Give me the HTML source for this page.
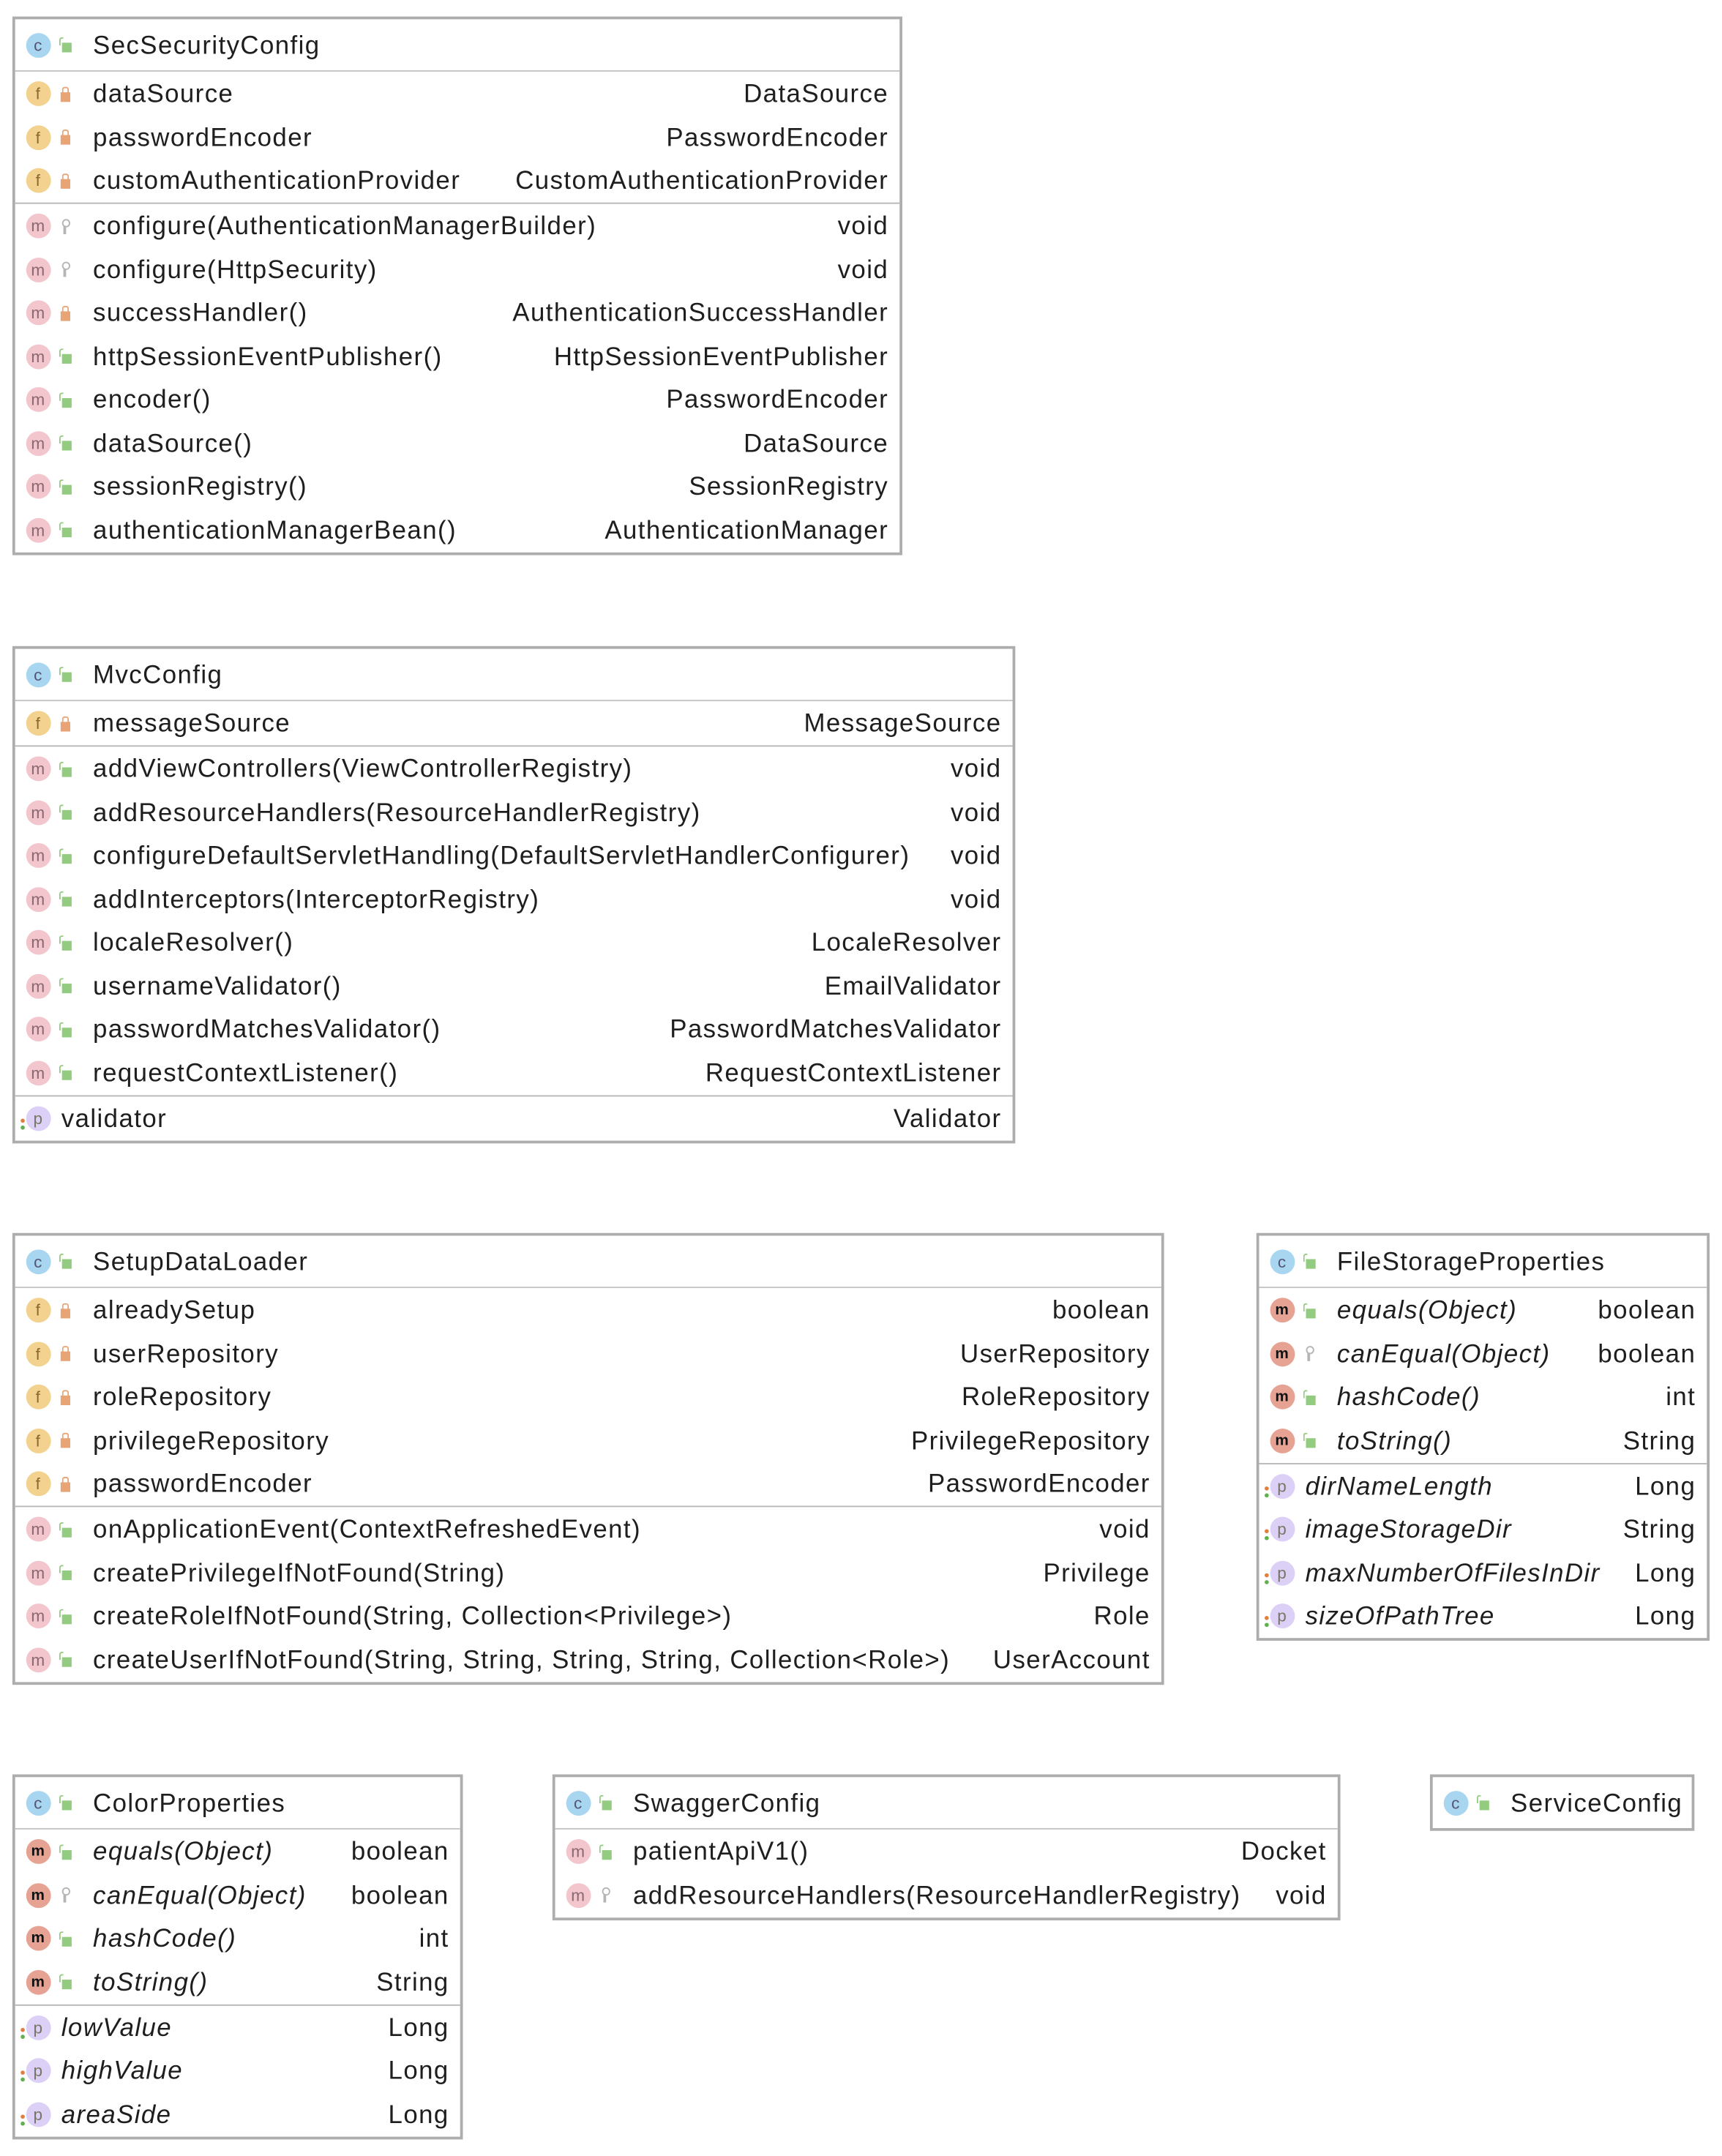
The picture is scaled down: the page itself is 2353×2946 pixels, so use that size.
<!DOCTYPE html>
<html><head><meta charset="utf-8"><style>
html,body{margin:0;padding:0;background:#fff;width:2353px;height:2945px;overflow:hidden}
#c{position:absolute;left:0;top:0;width:1250px;height:1565px;transform:scale(1.8824);transform-origin:0 0;font-family:"Liberation Sans",sans-serif;font-size:18.5px;letter-spacing:0.75px;color:#1e1e1e}
.box{position:absolute;border:2.5px solid #adadad;background:#fff;box-sizing:border-box}
.hd{height:37px;display:flex;align-items:center;border-bottom:1.5px solid #c4c4c4}
.sec{padding:0.5px 0 0 0;border-bottom:1.5px solid #b8b8b8}
.sec:last-child{border-bottom:none}
.r{height:31.5px;display:flex;align-items:center;padding-right:8px;white-space:nowrap}
.r .n{flex:1}
.ic{width:18px;height:18px;border-radius:50%;margin-left:7.5px;display:inline-flex;align-items:center;justify-content:center;font-size:12px;letter-spacing:0;flex:none;position:relative}
.c{background:#a8d6f0;color:#557}
.f{background:#f2d28e;color:#8a6a30}
.m{background:#f3c6cd;color:#8a6870}
.M{background:#e6a394;color:#111;font-weight:bold;font-size:11px}
.p{background:#ddd0f6;color:#776}
.v{width:8px;margin:0 17px 0 6px;flex:none;height:11px;position:relative}
.lk::before{content:"";position:absolute;left:1px;top:4px;width:7px;height:7px;background:#e9a476}
.lk::after{content:"";position:absolute;left:2.5px;top:0;width:3px;height:4px;border:1px solid #e9a476;border-bottom:none;border-radius:2px 2px 0 0}
.pb::before{content:"";position:absolute;left:2px;top:4px;width:7px;height:7px;background:#93cc80}
.pb::after{content:"";position:absolute;left:0;top:0;width:2px;height:5px;border:1px solid #93cc80;border-right:none;border-bottom:none;border-radius:2px 0 0 0}
.pr::before{content:"";position:absolute;left:2px;top:0;width:4px;height:4px;border:1px solid #b5b5b5;border-radius:50%}
.pr::after{content:"";position:absolute;left:3.5px;top:5px;width:1.5px;height:6px;background:#b5b5b5}
.i{font-style:italic}
.pp{margin-right:8px}
.pp::before{content:"";position:absolute;left:-4px;top:9px;width:3px;height:3px;background:#e08040;border-radius:50%}
.pp::after{content:"";position:absolute;left:-4px;top:14px;width:3px;height:3px;background:#60b050;border-radius:50%}
</style></head><body><div id="c">

<div class="box" style="left:9px;top:12px;width:646px">
<div class="hd"><span class="ic c">c</span><span class="v pb"></span>SecSecurityConfig</div>
<div class="sec">
<div class="r"><span class="ic f">f</span><span class="v lk"></span><span class="n">dataSource</span>DataSource</div>
<div class="r"><span class="ic f">f</span><span class="v lk"></span><span class="n">passwordEncoder</span>PasswordEncoder</div>
<div class="r"><span class="ic f">f</span><span class="v lk"></span><span class="n">customAuthenticationProvider</span>CustomAuthenticationProvider</div>
</div>
<div class="sec">
<div class="r"><span class="ic m">m</span><span class="v pr"></span><span class="n">configure(AuthenticationManagerBuilder)</span>void</div>
<div class="r"><span class="ic m">m</span><span class="v pr"></span><span class="n">configure(HttpSecurity)</span>void</div>
<div class="r"><span class="ic m">m</span><span class="v lk"></span><span class="n">successHandler()</span>AuthenticationSuccessHandler</div>
<div class="r"><span class="ic m">m</span><span class="v pb"></span><span class="n">httpSessionEventPublisher()</span>HttpSessionEventPublisher</div>
<div class="r"><span class="ic m">m</span><span class="v pb"></span><span class="n">encoder()</span>PasswordEncoder</div>
<div class="r"><span class="ic m">m</span><span class="v pb"></span><span class="n">dataSource()</span>DataSource</div>
<div class="r"><span class="ic m">m</span><span class="v pb"></span><span class="n">sessionRegistry()</span>SessionRegistry</div>
<div class="r"><span class="ic m">m</span><span class="v pb"></span><span class="n">authenticationManagerBean()</span>AuthenticationManager</div>
</div></div>

<div class="box" style="left:9px;top:469px;width:728px">
<div class="hd"><span class="ic c">c</span><span class="v pb"></span>MvcConfig</div>
<div class="sec">
<div class="r"><span class="ic f">f</span><span class="v lk"></span><span class="n">messageSource</span>MessageSource</div>
</div>
<div class="sec">
<div class="r"><span class="ic m">m</span><span class="v pb"></span><span class="n">addViewControllers(ViewControllerRegistry)</span>void</div>
<div class="r"><span class="ic m">m</span><span class="v pb"></span><span class="n">addResourceHandlers(ResourceHandlerRegistry)</span>void</div>
<div class="r"><span class="ic m">m</span><span class="v pb"></span><span class="n">configureDefaultServletHandling(DefaultServletHandlerConfigurer)</span>void</div>
<div class="r"><span class="ic m">m</span><span class="v pb"></span><span class="n">addInterceptors(InterceptorRegistry)</span>void</div>
<div class="r"><span class="ic m">m</span><span class="v pb"></span><span class="n">localeResolver()</span>LocaleResolver</div>
<div class="r"><span class="ic m">m</span><span class="v pb"></span><span class="n">usernameValidator()</span>EmailValidator</div>
<div class="r"><span class="ic m">m</span><span class="v pb"></span><span class="n">passwordMatchesValidator()</span>PasswordMatchesValidator</div>
<div class="r"><span class="ic m">m</span><span class="v pb"></span><span class="n">requestContextListener()</span>RequestContextListener</div>
</div>
<div class="sec">
<div class="r"><span class="ic p pp">p</span><span class="n">validator</span>Validator</div>
</div></div>

<div class="box" style="left:9px;top:895px;width:836px">
<div class="hd"><span class="ic c">c</span><span class="v pb"></span>SetupDataLoader</div>
<div class="sec">
<div class="r"><span class="ic f">f</span><span class="v lk"></span><span class="n">alreadySetup</span>boolean</div>
<div class="r"><span class="ic f">f</span><span class="v lk"></span><span class="n">userRepository</span>UserRepository</div>
<div class="r"><span class="ic f">f</span><span class="v lk"></span><span class="n">roleRepository</span>RoleRepository</div>
<div class="r"><span class="ic f">f</span><span class="v lk"></span><span class="n">privilegeRepository</span>PrivilegeRepository</div>
<div class="r"><span class="ic f">f</span><span class="v lk"></span><span class="n">passwordEncoder</span>PasswordEncoder</div>
</div>
<div class="sec">
<div class="r"><span class="ic m">m</span><span class="v pb"></span><span class="n">onApplicationEvent(ContextRefreshedEvent)</span>void</div>
<div class="r"><span class="ic m">m</span><span class="v pb"></span><span class="n">createPrivilegeIfNotFound(String)</span>Privilege</div>
<div class="r"><span class="ic m">m</span><span class="v pb"></span><span class="n">createRoleIfNotFound(String, Collection&lt;Privilege&gt;)</span>Role</div>
<div class="r"><span class="ic m">m</span><span class="v pb"></span><span class="n">createUserIfNotFound(String, String, String, String, Collection&lt;Role&gt;)</span>UserAccount</div>
</div></div>

<div class="box" style="left:912px;top:895px;width:329px">
<div class="hd"><span class="ic c">c</span><span class="v pb"></span>FileStorageProperties</div>
<div class="sec">
<div class="r"><span class="ic M">m</span><span class="v pb"></span><span class="n i">equals(Object)</span>boolean</div>
<div class="r"><span class="ic M">m</span><span class="v pr"></span><span class="n i">canEqual(Object)</span>boolean</div>
<div class="r"><span class="ic M">m</span><span class="v pb"></span><span class="n i">hashCode()</span>int</div>
<div class="r"><span class="ic M">m</span><span class="v pb"></span><span class="n i">toString()</span>String</div>
</div>
<div class="sec">
<div class="r"><span class="ic p pp">p</span><span class="n i">dirNameLength</span>Long</div>
<div class="r"><span class="ic p pp">p</span><span class="n i">imageStorageDir</span>String</div>
<div class="r"><span class="ic p pp">p</span><span class="n i">maxNumberOfFilesInDir</span>Long</div>
<div class="r"><span class="ic p pp">p</span><span class="n i">sizeOfPathTree</span>Long</div>
</div></div>

<div class="box" style="left:9px;top:1288px;width:327px">
<div class="hd"><span class="ic c">c</span><span class="v pb"></span>ColorProperties</div>
<div class="sec">
<div class="r"><span class="ic M">m</span><span class="v pb"></span><span class="n i">equals(Object)</span>boolean</div>
<div class="r"><span class="ic M">m</span><span class="v pr"></span><span class="n i">canEqual(Object)</span>boolean</div>
<div class="r"><span class="ic M">m</span><span class="v pb"></span><span class="n i">hashCode()</span>int</div>
<div class="r"><span class="ic M">m</span><span class="v pb"></span><span class="n i">toString()</span>String</div>
</div>
<div class="sec">
<div class="r"><span class="ic p pp">p</span><span class="n i">lowValue</span>Long</div>
<div class="r"><span class="ic p pp">p</span><span class="n i">highValue</span>Long</div>
<div class="r"><span class="ic p pp">p</span><span class="n i">areaSide</span>Long</div>
</div></div>

<div class="box" style="left:401px;top:1288px;width:572px">
<div class="hd"><span class="ic c">c</span><span class="v pb"></span>SwaggerConfig</div>
<div class="sec">
<div class="r"><span class="ic m">m</span><span class="v pb"></span><span class="n">patientApiV1()</span>Docket</div>
<div class="r"><span class="ic m">m</span><span class="v pr"></span><span class="n">addResourceHandlers(ResourceHandlerRegistry)</span>void</div>
</div></div>

<div class="box" style="left:1038px;top:1288px;width:192px">
<div class="hd" style="border-bottom:none"><span class="ic c">c</span><span class="v pb"></span>ServiceConfig</div>
</div>

</div></body></html>
